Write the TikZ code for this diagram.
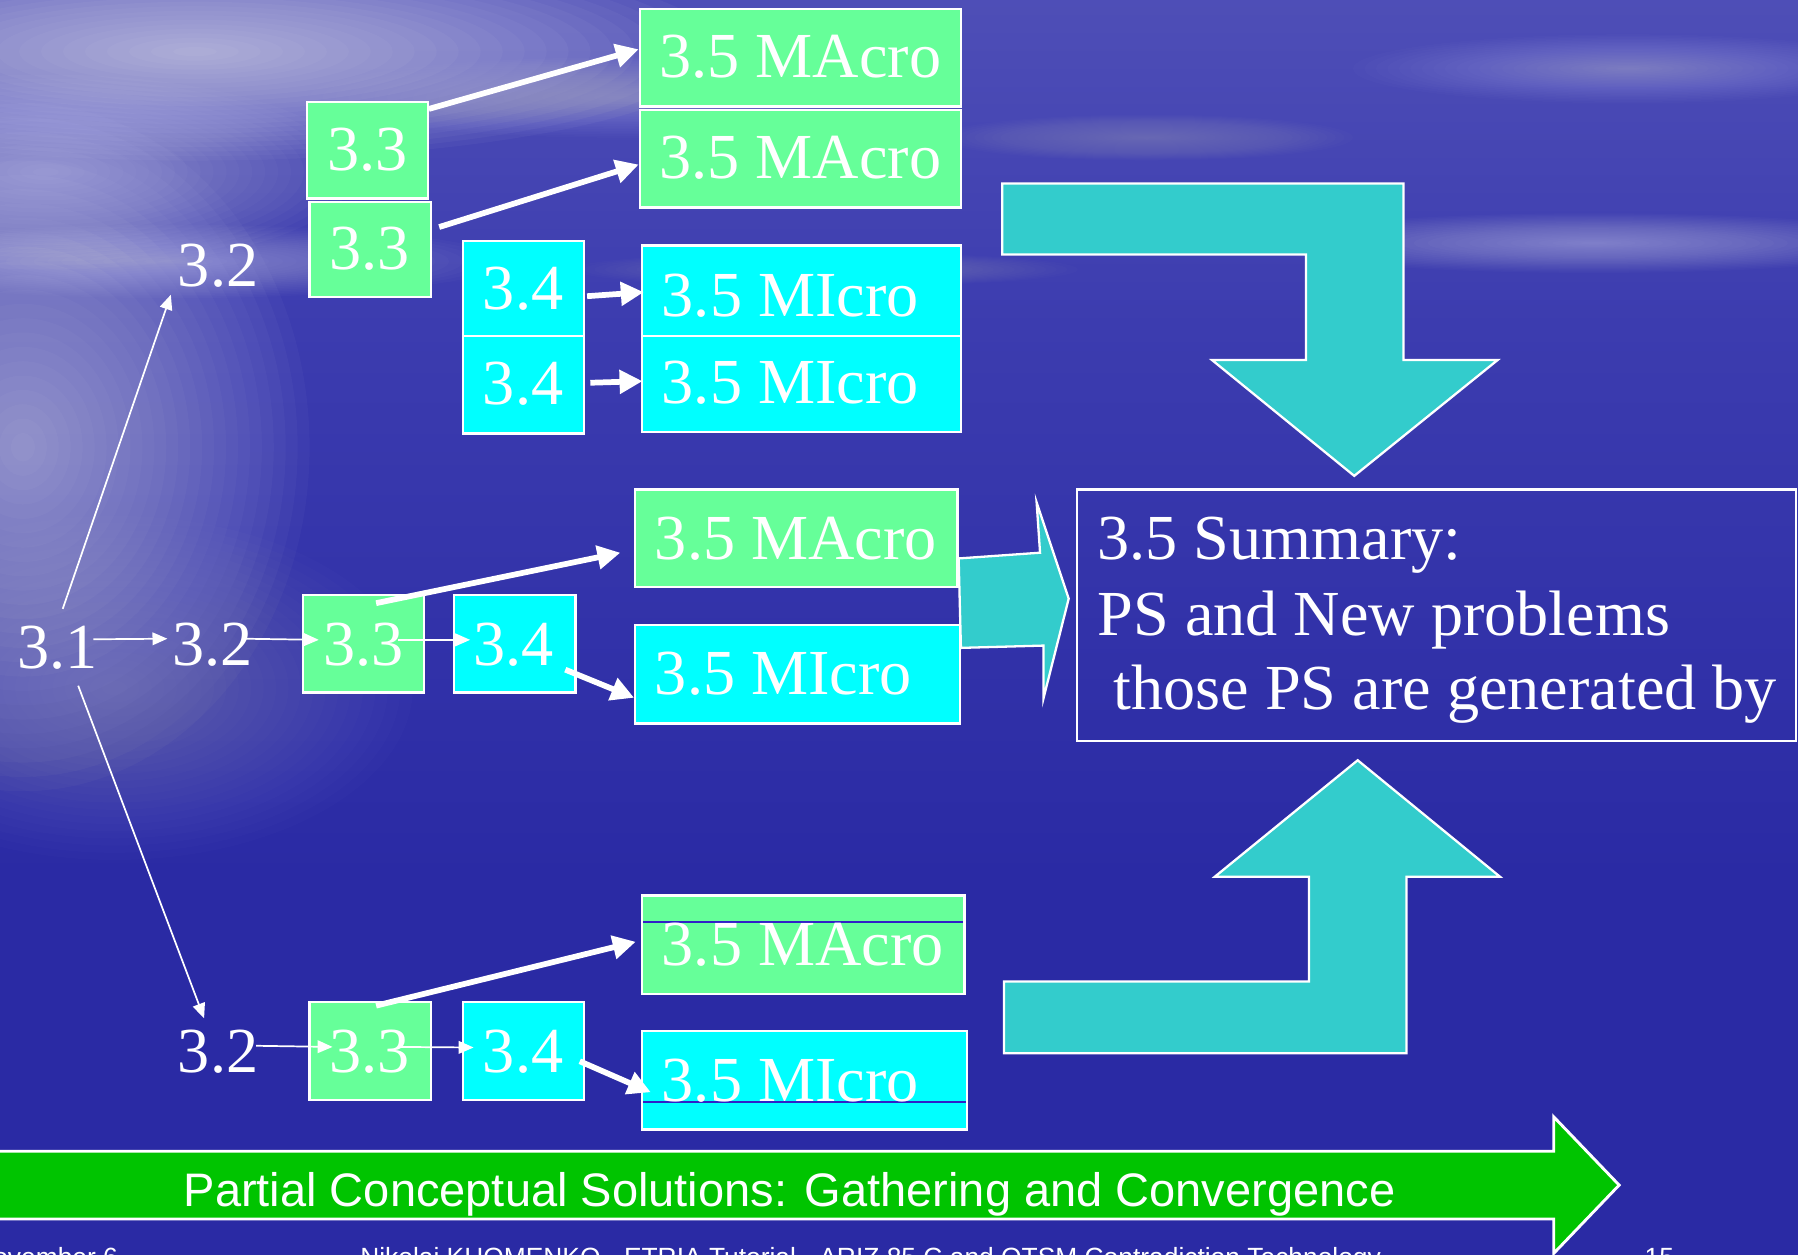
\documentclass[tikz,border=0pt]{standalone}
\usepackage{fontspec}
\setmainfont{Liberation Serif}
\newfontfamily\sansface{Liberation Sans}
\usetikzlibrary{arrows.meta}

\definecolor{boxgreen}{HTML}{66FF99}
\definecolor{boxcyan}{HTML}{00FFFF}
\definecolor{turnteal}{HTML}{33CCCC}
\definecolor{bannergreen}{HTML}{00C400}
\definecolor{seadeep}{HTML}{2A2AA4}
\definecolor{seamid}{HTML}{3C3CAF}
\definecolor{skylow}{HTML}{5454B9}
\definecolor{skytop}{HTML}{6666C2}
\definecolor{textline}{HTML}{3020C8}

% sky over sea, darkening towards the bottom
\pgfdeclareverticalshading{seasky}{100bp}{color(0bp)=(seadeep); color(40bp)=(seadeep); color(62bp)=(seamid); color(79bp)=(skylow); color(100bp)=(skytop)}

% soft white blob built from stacked translucent ellipses: x, y, x radius, y radius, layer opacity
\newcommand\hazeblob[5]{%
  \foreach \k in {0,...,23}{%
    \pgfmathsetmacro\hazerx{(1-\k/24)*#3}%
    \pgfmathsetmacro\hazery{(1-\k/24)*#4}%
    \fill[white, fill opacity=#5] (#1,#2) ellipse [x radius=\hazerx pt, y radius=\hazery pt];
  }}

\tikzset{
  greenbox/.style={rectangle, draw=white, line width=2pt, fill=boxgreen, inner sep=0pt, anchor=north west},
  cyanbox/.style={rectangle, draw=white, line width=2pt, fill=boxcyan, inner sep=0pt, anchor=north west},
  bigtext/.style={text=white, inner sep=0pt, anchor=base west, font=\fontsize{56}{60}\selectfont},
  thinarrow/.style={draw=white, line width=1.5pt, -{Triangle[length=13pt,width=11pt]}},
  thickarrow/.style={draw=white, line width=5pt, -{Triangle[length=20pt,width=20pt]}},
  turnarrow/.style={fill=turnteal, draw=white, line width=2pt, line join=miter},
  footertext/.style={text=white, inner sep=0pt, font=\sansface\fontsize{23}{25}\selectfont},
}

\begin{document}
\begin{tikzpicture}[x=1pt,y=-1pt]
\useasboundingbox (0,0) rectangle (1568,1094);
\clip (0,0) rectangle (1568,1094);

% background: sky, clouds and glare on the water
\shade[shading=seasky] (0,0) rectangle (1568,1094);
\hazeblob{20}{390}{250}{300}{0.028}
\hazeblob{100}{600}{260}{150}{0.012}
\hazeblob{170}{45}{460}{95}{0.035}
\hazeblob{40}{150}{270}{85}{0.022}
\hazeblob{540}{85}{270}{35}{0.014}
\hazeblob{1390}{212}{290}{26}{0.02}
\hazeblob{150}{228}{290}{32}{0.02}
\hazeblob{1420}{60}{240}{30}{0.014}
\hazeblob{1000}{120}{180}{20}{0.01}
\hazeblob{720}{235}{220}{15}{0.01}

% turning arrows towards the summary
\draw[turnarrow] (874,160) -- (1224,160) -- (1224,314) -- (1306,314) -- (1181,415)
  -- (1057,314) -- (1139,314) -- (1139,222) -- (874,222) -- cycle;
\draw[turnarrow] (875.5,856) -- (1141.5,856) -- (1141.5,764.5) -- (1059.5,764.5) -- (1184,663)
  -- (1308,764.5) -- (1226.5,764.5) -- (1226.5,918.5) -- (875.5,918.5) -- cycle;
\draw[turnarrow] (836,487) -- (907,482) -- (904,438) -- (932,522) -- (910,609)
  -- (910,563) -- (838,565) -- cycle;

% banner arrow
\draw[fill=bannergreen, draw=white, line width=2.5pt, line join=miter]
  (-10,1004) -- (1355,1004) -- (1355,974) -- (1412,1033.5) -- (1355,1093)
  -- (1355,1063) -- (-10,1063) -- cycle;
\node[text=white, inner sep=0pt, anchor=base west, font=\sansface\fontsize{41}{45}\selectfont]
  (banner) at (160,1052) {Partial Conceptual Solutions: Gathering and Convergence};

% footer line, running off the lower edge
\node[footertext, anchor=base east] (fdate) at (103,1104.5) {November 6};
\node[footertext, anchor=base west] (fauthor) at (314,1104.5) {Nikolai KHOMENKO - ETRIA Tutorial - ARIZ 85 C and OTSM Contradiction Technology};
\node[footertext, anchor=base west] (fpage) at (1434,1104.5) {15};

% upper branch
\node[greenbox, minimum width=280pt, minimum height=85pt] (MA1) at (557,7) {};
\node[greenbox, minimum width=280pt, minimum height=85pt] (MA2) at (557,95) {};
\node[greenbox, minimum width=105pt, minimum height=84pt] (A33) at (267,88) {};
\node[greenbox, minimum width=106pt, minimum height=83pt] (B33) at (269,175) {};
\node[cyanbox, minimum width=105pt, minimum height=83pt] (A34) at (403,209) {};
\node[cyanbox, minimum width=105pt, minimum height=85pt] (B34) at (403,292) {};
\node[cyanbox, minimum width=278pt, minimum height=79pt] (MI1) at (559,213) {};
\node[cyanbox, minimum width=278pt, minimum height=84pt] (MI2) at (559,292) {};

% middle branch
\node[greenbox, minimum width=281pt, minimum height=85pt] (MA3) at (553,426) {};
\node[cyanbox, minimum width=283pt, minimum height=86pt] (MI3) at (553,544) {};
\node[greenbox, minimum width=106pt, minimum height=85pt] (C33) at (263,518) {};
\node[cyanbox, minimum width=106pt, minimum height=85pt] (C34) at (395,518) {};

% lower branch
\node[greenbox, minimum width=281pt, minimum height=86pt] (MA4) at (559,780) {};
\node[cyanbox, minimum width=283pt, minimum height=86pt] (MI4) at (559,898) {};
\node[greenbox, minimum width=106pt, minimum height=85pt] (D33) at (269,873) {};
\node[cyanbox, minimum width=105pt, minimum height=85pt] (D34) at (403,873) {};
\draw[textline, line width=1pt] ([xshift=2pt,yshift=-24pt]MA4.north west) -- ([xshift=-2pt,yshift=-24pt]MA4.north east);
\draw[textline, line width=1pt] ([xshift=2pt,yshift=-63pt]MI4.north west) -- ([xshift=-2pt,yshift=-63pt]MI4.north east);

% summary box
\node[rectangle, draw=white, line width=2pt, inner sep=0pt, anchor=north west,
  minimum width=627pt, minimum height=219pt] (SUM) at (938,426) {};

% texts
\node[bigtext] (tMA1) at (575,68) {3.5 MAcro};
\node[bigtext] (tMA2) at (575,156) {3.5 MAcro};
\node[bigtext] (tA33) at (285,149) {3.3};
\node[bigtext] (tB33) at (287,235) {3.3};
\node[bigtext] (tA34) at (421,270) {3.4};
\node[bigtext] (tB34) at (421,353) {3.4};
\node[bigtext] (tMI1) at (577,276) {3.5 MIcro};
\node[bigtext] (tMI2) at (577,352) {3.5 MIcro};
\node[bigtext] (tMA3) at (571,488) {3.5 MAcro};
\node[bigtext] (tMI3) at (571,606) {3.5 MIcro};
\node[bigtext] (tC33) at (282,580) {3.3};
\node[bigtext] (tC34) at (413,580) {3.4};
\node[bigtext] (tMA4) at (577,842) {3.5 MAcro};
\node[bigtext] (tMI4) at (577,961) {3.5 MIcro};
\node[bigtext] (tD33) at (287,935) {3.3};
\node[bigtext] (tD34) at (421,935) {3.4};
\node[bigtext] (n31) at (15,583) {3.1};
\node[bigtext] (n32m) at (150,580) {3.2};
\node[bigtext] (n32t) at (155,250) {3.2};
\node[bigtext] (n32b) at (155,935) {3.2};
\node[bigtext] (sumA) at (957,488) {3.5 Summary:};
\node[bigtext] (sumB) at (957,554) {PS and New problems};
\node[bigtext] (sumC) at (971,619) {those PS are generated by};

% thin connectors of the tree
\draw[thinarrow] ([xshift=-4pt,yshift=25.5pt]n31.base east) -- ([xshift=-4pt,yshift=23pt]n32m.base west);
\draw[thinarrow] ([xshift=-8pt,yshift=23pt]n32m.base east) -- ([xshift=15pt,yshift=3.5pt]C33.west);
\draw[thinarrow] ([xshift=-24pt,yshift=3.5pt]C33.east) -- ([xshift=15pt,yshift=3.5pt]C34.west);
\draw[thinarrow] ([xshift=4.5pt,yshift=52pt]n31.base) -- ([xshift=-6pt,yshift=-7pt]n32t.base west);
\draw[thinarrow] ([xshift=18pt,yshift=-15pt]n31.base) -- ([xshift=23pt,yshift=47pt]n32b.base west);
\draw[thinarrow] ([xshift=-2pt,yshift=23pt]n32b.base east) -- ([xshift=21pt,yshift=3.5pt]D33.west);
\draw[thinarrow] ([xshift=-30pt,yshift=3.5pt]D33.east) -- ([xshift=10pt,yshift=3pt]D34.west);

% thick connectors to the MAcro / MIcro boxes
\draw[thickarrow] ([yshift=-7pt]A33.north east) -- ([yshift=7.5pt]MA1.west);
\draw[thickarrow] ([xshift=6pt,yshift=-23pt]B33.north east) -- ([yshift=-5pt]MA2.west);
\draw[thickarrow] ([xshift=2pt,yshift=-6.8pt]A34.east) -- ([xshift=2.4pt,yshift=-1.3pt]MI1.west);
\draw[thickarrow] ([xshift=4.8pt,yshift=1.7pt]B34.east) -- ([xshift=1.3pt,yshift=2.6pt]MI2.west);
\draw[thickarrow] ([xshift=11pt,yshift=-8pt]C33.north) -- ([xshift=-12pt,yshift=-12.5pt]MA3.west);
\draw[thickarrow] ([xshift=-10pt,yshift=-22.5pt]C34.east) -- ([yshift=-20.5pt]MI3.west);
\draw[thickarrow] ([xshift=5pt,yshift=-4pt]D33.north) -- ([xshift=-4.6pt,yshift=2.7pt]MA4.west);
\draw[thickarrow] ([xshift=-4.4pt,yshift=-9pt]D34.east) -- ([xshift=8.5pt,yshift=-10.5pt]MI4.west);
\end{tikzpicture}
\end{document}
